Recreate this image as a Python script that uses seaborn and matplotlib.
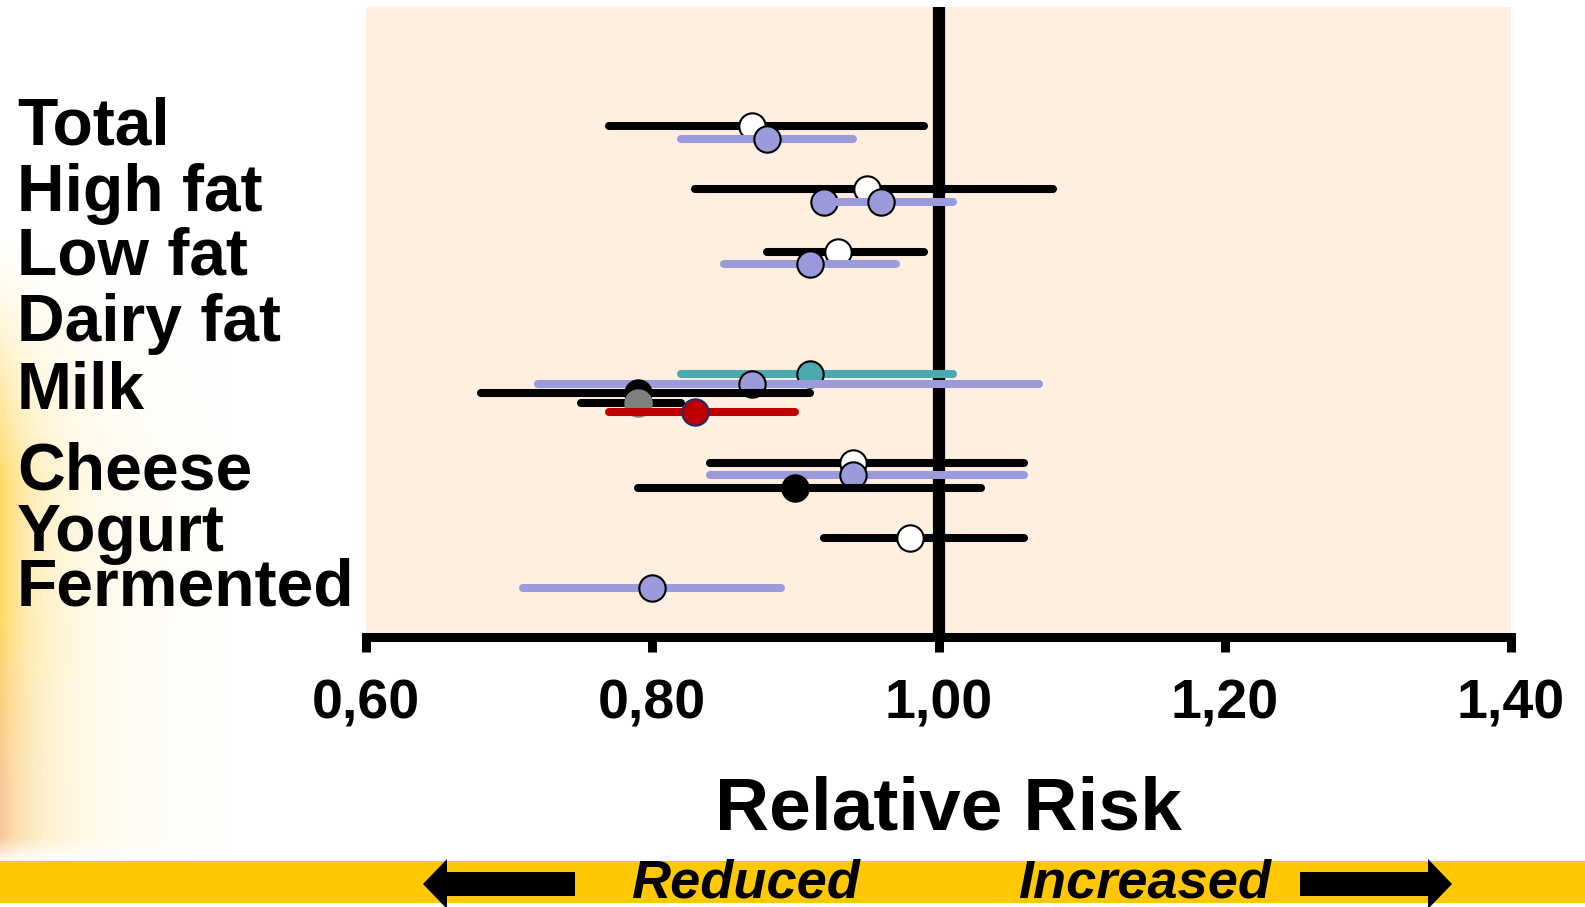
import numpy as np
import pandas as pd
import matplotlib
matplotlib.use("Agg")
import matplotlib.pyplot as plt
import seaborn as sns
from matplotlib.patches import Rectangle, Polygon

# ---------------- data ----------------
categories = ['Total', 'High fat', 'Low fat', 'Dairy fat', 'Milk', 'Cheese', 'Yogurt', 'Fermented']

row_category = ['Total', 'Total', 'High fat', 'High fat', 'High fat', 'Low fat', 'Low fat',
                'Milk', 'Milk', 'Milk', 'Milk', 'Milk', 'Cheese', 'Cheese', 'Cheese',
                'Yogurt', 'Fermented']
row_group = ['white', 'purple', 'white', 'purple', 'purple', 'white', 'purple',
             'teal', 'purple', 'black', 'grey', 'red', 'white', 'purple', 'black',
             'white', 'purple']
rr_est = [0.87, 0.88, 0.95, 0.92, 0.96, 0.93, 0.91,
          0.91, 0.87, 0.79, 0.79, 0.83, 0.94, 0.94, 0.90,
          0.98, 0.80]
rr_low = [0.77, 0.82, 0.83, 0.92, 0.92, 0.88, 0.85,
          0.82, 0.72, 0.68, 0.75, 0.77, 0.84, 0.84, 0.79,
          0.92, 0.71]
rr_high = [0.99, 0.94, 1.08, 0.92, 1.01, 0.99, 0.97,
           1.01, 1.07, 0.91, 0.82, 0.90, 1.06, 1.06, 1.03,
           1.06, 0.89]

x_ticks = [0.60, 0.80, 1.00, 1.20, 1.40]
x_tick_labels = ['0,60', '0,80', '1,00', '1,20', '1,40']

# ---------------- layout / style ----------------
# vertical positions (axes units = pixels from top of plot panel)
row_pos = [119, 132, 182, 195, 195, 245, 257,
           367, 377, 386, 396, 405, 456, 468, 481,
           531, 581]
label_pos = [113, 179.5, 243.7, 310, 377.7, 458.5, 520, 574.8]

line_colors = {'white': 'black', 'purple': '#9B9BDC', 'teal': '#4BA9B0',
               'black': 'black', 'grey': 'black', 'red': '#C00000'}
face_colors = {'white': 'white', 'purple': '#9B9BDC', 'teal': '#4BA9B0',
               'black': 'black', 'grey': '#808080', 'red': '#C00000'}
edge_colors = {'white': 'black', 'purple': 'black', 'teal': 'black',
               'black': 'black', 'grey': '#808080', 'red': '#1F2F66'}

df = pd.DataFrame({'category': row_category, 'group': row_group,
                   'est': rr_est, 'lo': rr_low, 'hi': rr_high, 'y': row_pos})

sns.set_theme(style='white')
plt.rcParams['font.family'] = ['Liberation Sans', 'DejaVu Sans']
plt.rcParams['font.weight'] = 'bold'
plt.rcParams['text.color'] = 'black'
plt.rcParams['xtick.color'] = 'black'
plt.rcParams['ytick.color'] = 'black'
plt.rcParams['xtick.labelcolor'] = 'black'
plt.rcParams['ytick.labelcolor'] = 'black'

W, H = 1585, 907
fig = plt.figure(figsize=(W / 100, H / 100), dpi=100)
fig.patch.set_facecolor('white')

# left glow background
gw = 230
yy, xx = np.mgrid[0:H, 0:gw].astype(float)
vert = np.clip((yy - 240) / 240, 0, 1) ** 1.3 * np.clip((862 - yy) / 25, 0, 1)
core = np.exp(-xx / 24.0)
halo = np.exp(-xx / 70.0)
alpha = np.clip(vert * (0.45 * core + 0.5 * halo), 0, 1)
t = np.clip((yy - 620) / 170, 0, 1)
yellow = np.array([255, 214, 90]) / 255
orange = np.array([246, 196, 150]) / 255
mix = (t * np.exp(-xx / 35.0))[..., None]
rgb = yellow * (1 - mix) + orange * mix
img = np.dstack([rgb, alpha])
ax_bg = fig.add_axes([0, 0, gw / W, 1], zorder=-10)
ax_bg.imshow(img, aspect='auto', extent=[0, gw, H, 0], interpolation='bilinear')
ax_bg.set_axis_off()

# main axes
ax_l, ax_r, ax_t, ax_b = 366, 1511, 7, 637
ax = fig.add_axes([ax_l / W, (H - ax_b) / H, (ax_r - ax_l) / W, (ax_b - ax_t) / H])
ax.set_facecolor('#FFEFE0')
ax.set_xlim(0.6, 1.4)
ax.set_ylim(ax_b - ax_t, 0)

ax.axvline(1.0, color='black', lw=8.8, zorder=1.5, solid_capstyle='butt')

z = 2
for i in range(len(df)):
    r = df.iloc[i]
    lc = ax.hlines(r['y'], r['lo'], r['hi'], colors=line_colors[r['group']],
                   linewidth=5.8, zorder=z)
    lc.set_capstyle('round')
    sns.scatterplot(x=[r['est']], y=[r['y']], ax=ax, s=360, marker='o',
                    color=face_colors[r['group']], edgecolor=edge_colors[r['group']],
                    linewidth=1.5, zorder=z + 1, legend=False)
    z += 2

ax.set_xlabel('')
ax.set_ylabel('')
for s in ['left', 'top', 'right']:
    ax.spines[s].set_visible(False)
ax.spines['bottom'].set_color('black')
ax.spines['bottom'].set_linewidth(6.5)
ax.spines['bottom'].set_zorder(50)

ax.set_xticks(x_ticks)
ax.set_xticklabels(x_tick_labels, fontsize=40, fontweight='bold', color='black')
ax.tick_params(axis='x', direction='out', length=11, width=6.5, color='black',
               pad=19, bottom=True)

ax.set_yticks(label_pos)
ax.set_yticklabels(categories, fontsize=47.5, fontweight='bold', color='black')
for tl in ax.get_yticklabels():
    tl.set_horizontalalignment('left')
ax.tick_params(axis='y', length=0, pad=(ax_l - 17) * 0.72, left=True)
ax.grid(False)

# x-axis title
fig.text(948 / W, (H - 829) / H, 'Relative Risk', ha='center', va='baseline',
         fontsize=54, fontweight='bold', color='black')

# bottom band with arrows
fig.patches.append(Rectangle((0, (H - 903) / H), 1, 42 / H, transform=fig.transFigure,
                             facecolor='#FFC800', edgecolor='none', zorder=1))


def px(points):
    return [(x / W, (H - y) / H) for x, y in points]


left_arrow = [(423, 884), (447, 859), (447, 872), (575, 872), (575, 896), (447, 896), (447, 909)]
right_arrow = [(1452, 884), (1428, 859), (1428, 872), (1300, 872), (1300, 896), (1428, 896), (1428, 909)]
for pts in (left_arrow, right_arrow):
    fig.patches.append(Polygon(px(pts), closed=True, transform=fig.transFigure,
                               facecolor='black', edgecolor='none', zorder=2))

fig.text(745 / W, (H - 897) / H, 'Reduced', ha='center', va='baseline', fontsize=39,
         fontweight='bold', fontstyle='italic', color='black', zorder=3)
fig.text(1145 / W, (H - 897) / H, 'Increased', ha='center', va='baseline', fontsize=39,
         fontweight='bold', fontstyle='italic', color='black', zorder=3)

fig.savefig('out.png', dpi=100, facecolor='white')
